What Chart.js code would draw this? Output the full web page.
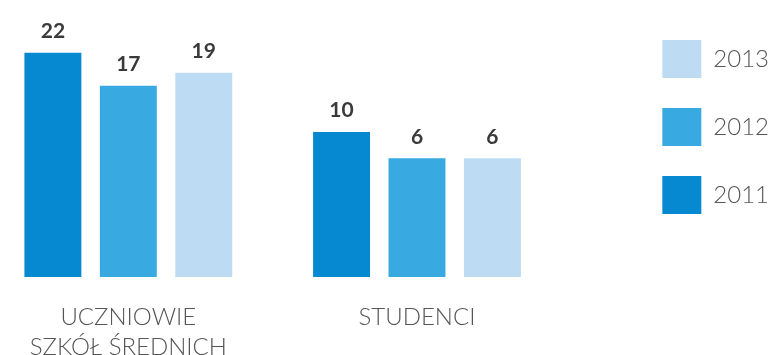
<!DOCTYPE html>
<html>
<head>
<meta charset="utf-8">
<script src="https://cdn.jsdelivr.net/npm/chart.js@4.4.1/dist/chart.umd.min.js"></script>
<style>
  html, body { margin: 0; padding: 0; background: #fff; overflow: hidden; }
  #wrap { position: absolute; left: -16px; top: 0; width: 795px; height: 355px; }
</style>
</head>
<body>
<div id="wrap"><canvas id="chart"></canvas></div>
<script>
// categories (multi-line tick labels)
const categories = [['UCZNIOWIE', 'SZKÓŁ ŚREDNICH'], ['STUDENCI']];
const years = ['2011', '2012', '2013'];
const values2011 = [22, 10];
const values2012 = [17, 6];
const values2013 = [19, 6];
const yearColors = ['#0789d2', '#38aae1', '#bddcf4'];

// the infographic is not drawn from zero, so the axis starts below it
const axisMin = -12;
const axisMax = 28.5;

// write the value above each bar
const valueLabels = {
  id: 'valueLabels',
  afterDatasetsDraw(chart) {
    const ctx = chart.ctx;
    ctx.save();
    ctx.font = 'bold 21px Lato, "DejaVu Sans", sans-serif';
    ctx.fillStyle = '#3a3a3a';
    ctx.textAlign = 'center';
    ctx.textBaseline = 'bottom';
    chart.data.datasets.forEach((ds, i) => {
      chart.getDatasetMeta(i).data.forEach((bar, j) => {
        ctx.fillText(ds.data[j], bar.x, bar.y - 11);
      });
    });
    ctx.restore();
  }
};

const datasets = [values2011, values2012, values2013].map((vals, i) => ({
  label: years[i],
  data: vals,
  backgroundColor: yearColors[i],
  borderWidth: 0,
  base: axisMin,
  categoryPercentage: 0.784,
  barPercentage: 0.755
}));

new Chart(document.getElementById('chart'), {
  type: 'bar',
  data: { labels: categories, datasets: datasets },
  options: {
    responsive: true,
    maintainAspectRatio: false,
    animation: false,
    layout: { padding: { top: 10, right: 0, bottom: 0, left: 0 } },
    plugins: {
      tooltip: { enabled: false },
      legend: {
        position: 'right',
        align: 'start',
        reverse: true,
        labels: {
          boxWidth: 39,
          boxHeight: 38,
          padding: 30,
          color: '#555',
          font: { family: 'Lato, "DejaVu Sans", sans-serif', size: 24, weight: '300' }
        }
      }
    },
    scales: {
      x: {
        grid: { display: false },
        border: { display: false },
        ticks: {
          padding: 17,
          color: '#555',
          font: { family: 'Lato, "DejaVu Sans", sans-serif', size: 24, weight: '300', lineHeight: '30px' }
        },
        afterFit: (scale) => { scale.height = 78; }
      },
      y: {
        position: 'right',
        min: axisMin,
        max: axisMax,
        grid: { display: false },
        border: { display: false },
        ticks: { display: false },
        afterFit: (scale) => { scale.width = 71; }
      }
    }
  },
  plugins: [valueLabels]
});
</script>
</body>
</html>
